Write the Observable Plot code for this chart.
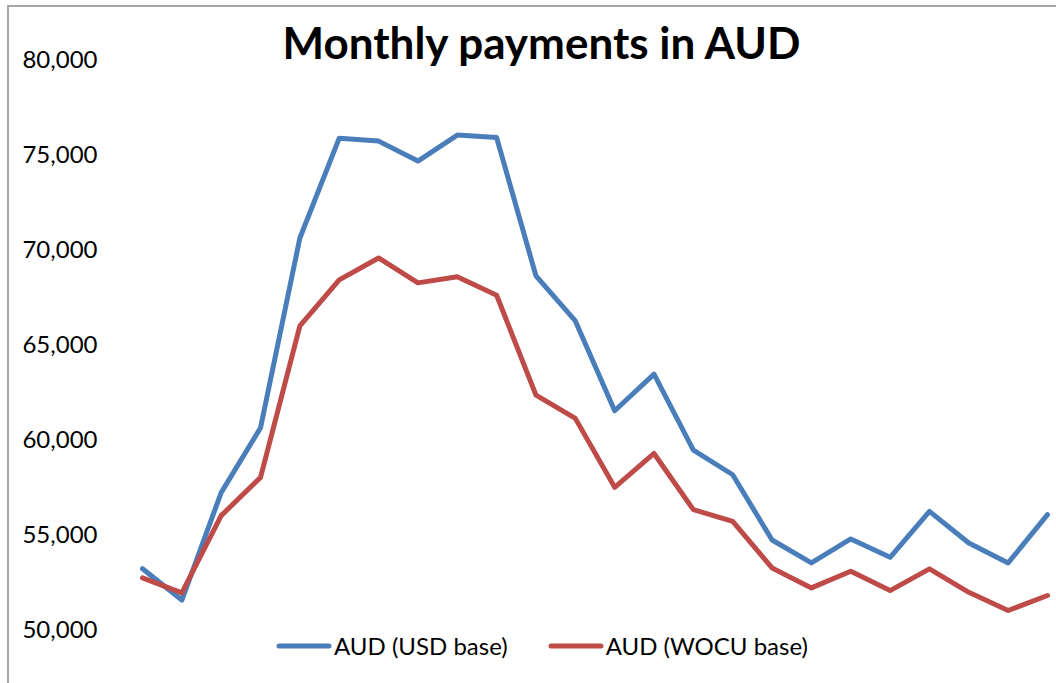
<!DOCTYPE html>
<html>
<head>
<meta charset="utf-8">
<script src="https://cdn.jsdelivr.net/npm/d3@7"></script>
<script src="https://cdn.jsdelivr.net/npm/@observablehq/plot@0.6"></script>
<style>
  html, body { margin: 0; padding: 0; background: #fff; }
  #wrap { position: relative; width: 1056px; height: 683px; overflow: hidden; font-family: Lato, "Open Sans", sans-serif; }
  #frame { position: absolute; left: 7px; top: 5px; width: 1200px; height: 800px; border-left: 2px solid #a6a6a6; border-top: 2px solid #a6a6a6; box-sizing: border-box; pointer-events: none; }
  #title { position: absolute; left: 0; width: 1083px; top: 16px; text-align: center; font-size: 44px; font-weight: bold; color: #000; white-space: nowrap; }
  #legend { position: absolute; top: 631px; left: 276px; display: flex; align-items: center; font-size: 24px; color: #000; white-space: nowrap; }
  #legend .item { display: flex; align-items: center; }
  #legend svg { margin-right: 2px; }
</style>
</head>
<body>
<div id="wrap">
  <div id="chart"></div>
  <div id="frame"></div>
  <div id="title"></div>
  <div id="legend"></div>
</div>
<script>
const titleText = "Monthly payments in AUD";
const periods = d3.range(24);
const seriesNames = ["AUD (USD base)", "AUD (WOCU base)"];
const seriesColors = ["#4a7ebb", "#be4b48"];
const usdBase = [53250, 51600, 57250, 60660, 70640, 75890, 75735, 74685, 76050, 75920,
                 68645, 66280, 61555, 63480, 59490, 58190, 54760, 53555, 54815, 53850,
                 56265, 54605, 53555, 56090];
const wocuBase = [52770, 51980, 56040, 58050, 66020, 68435, 69590, 68280, 68600, 67630,
                  62380, 61155, 57530, 59310, 56355, 55740, 53290, 52240, 53115, 52100,
                  53240, 52010, 51050, 51840];
const yTicks = [50000, 55000, 60000, 65000, 70000, 75000, 80000];

const rows = [];
[usdBase, wocuBase].forEach((vals, s) => {
  vals.forEach((v, i) => rows.push({period: periods[i], value: v, series: seriesNames[s]}));
});

const plot = Plot.plot({
  width: 1056,
  height: 683,
  marginLeft: 142,
  marginRight: 9,
  marginTop: 59.5,
  marginBottom: 53,
  style: { fontFamily: "Lato, 'Open Sans', sans-serif", fontSize: "24px", color: "#000", background: "transparent" },
  x: { domain: [0, 23], axis: null },
  y: { domain: [50000, 80000], ticks: yTicks, tickFormat: d3.format(","), tickSize: 0, tickPadding: 45, label: null },
  color: { domain: seriesNames, range: seriesColors },
  marks: [
    Plot.line(rows, { x: "period", y: "value", z: "series", stroke: "series", strokeWidth: 5, strokeLinejoin: "round", strokeLinecap: "round" })
  ]
});
document.getElementById("chart").appendChild(plot);
document.getElementById("title").textContent = titleText;

const legend = document.getElementById("legend");
seriesNames.forEach((name, i) => {
  const item = document.createElement("div");
  item.className = "item";
  if (i > 0) item.style.marginLeft = "40px";
  item.innerHTML = `<svg width="56" height="10"><line x1="3" y1="5" x2="53" y2="5" stroke="${seriesColors[i]}" stroke-width="5" stroke-linecap="round"/></svg><span>${name}</span>`;
  legend.appendChild(item);
});
</script>
</body>
</html>
